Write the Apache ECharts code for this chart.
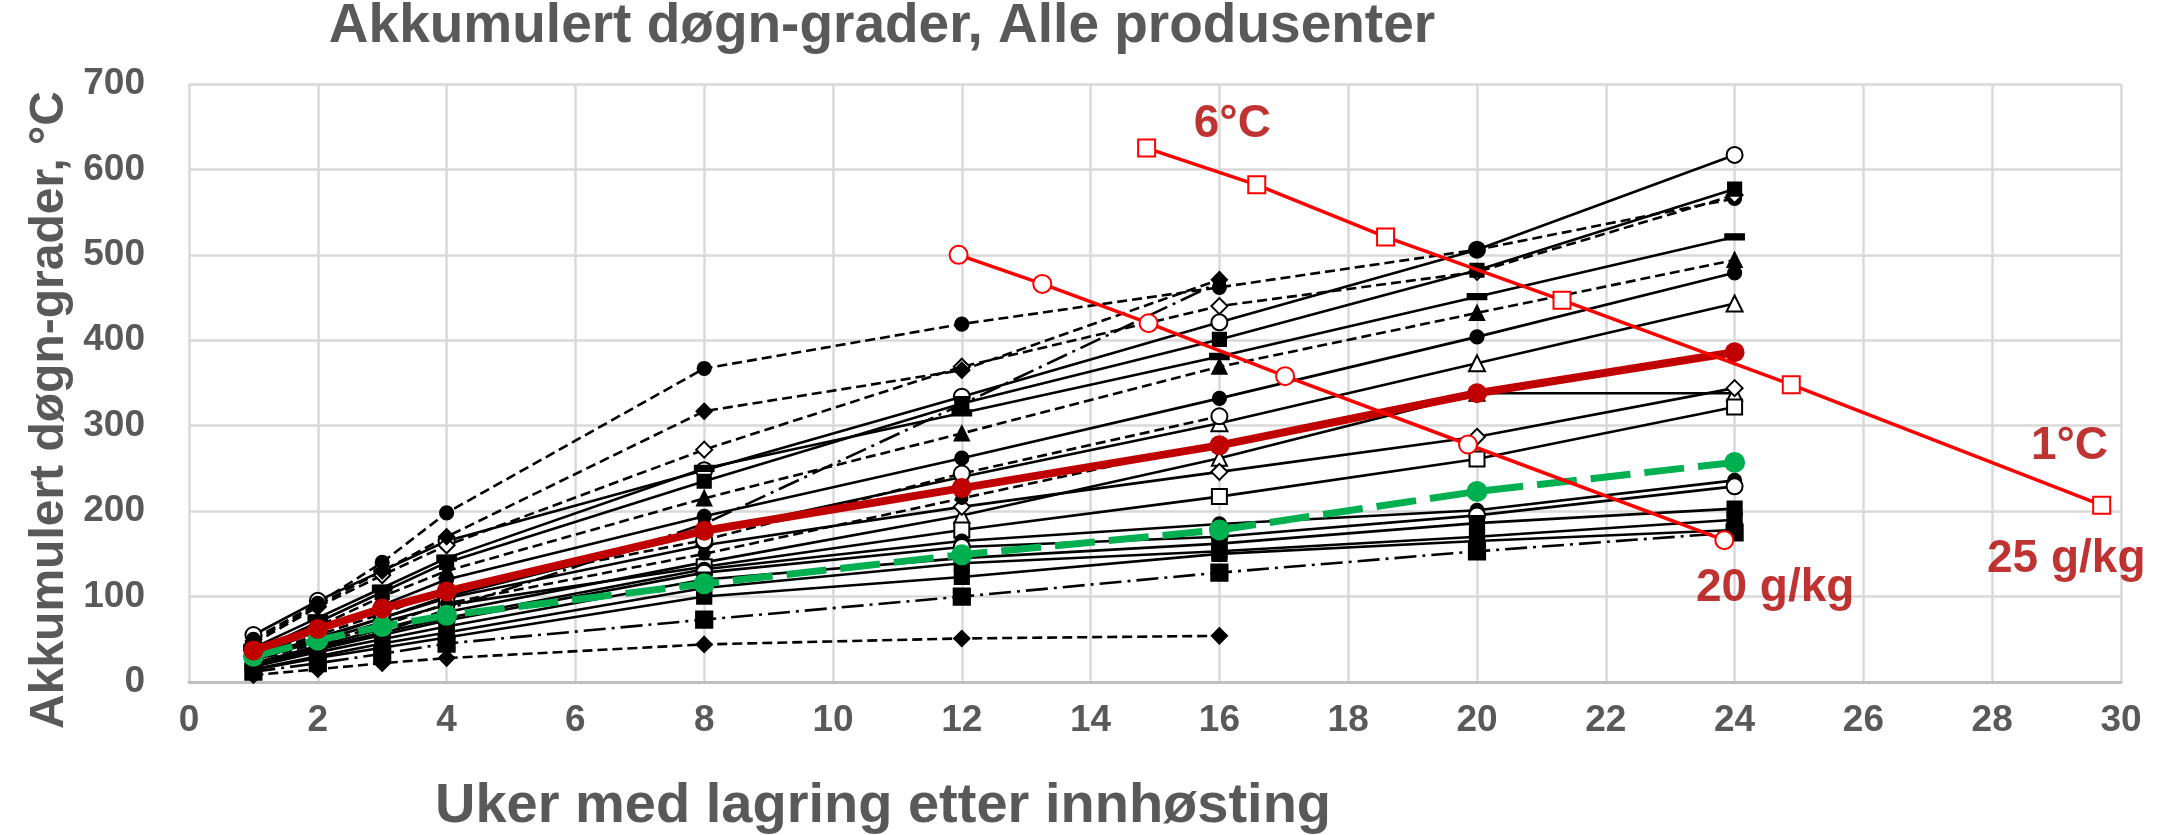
<!DOCTYPE html>
<html>
<head>
<meta charset="utf-8">
<script src="https://cdn.jsdelivr.net/npm/echarts@6/dist/echarts.min.js"></script>
<style>
html,body{margin:0;padding:0;background:#fff;}
#chart{width:2164px;height:835px;}
</style>
</head>
<body>
<div id="chart"></div>
<script>
// ---------- DATA ----------
const weeks = [1, 2, 3, 4, 8, 12, 16, 20, 24];

const s01 = [55, 95, 130, 165, 248, 334, 421, 506, 617];
const s02 = [50, 92, 140, 198, 367, 419, 462, 506, 566];
const s03 = [45, 88, 125, 160, 272, 369, 440, 480, 570];
const s04 = [48, 90, 130, 170, 317, 365, 471, null, null];
const s05 = [20, 38, 58, 85, 185, 325, 468, null, null];
const s06 = [35, 70, 105, 140, 235, 326, 401, 482, 577];
const s07 = [40, 75, 110, 145, 250, 315, 381, 451, 521];
const s08 = [32, 65, 100, 130, 215, 291, 369, 432, 494];
const s09 = [30, 60, 90, 120, 194, 262, 332, 404, 479];
const s10 = [25, 50, 75, 100, 175, 240, 303, 373, 443];
const s11 = [22, 42, 62, 82, 140, 195, 262, 338, 338];
const s12 = [28, 52, 75, 98, 160, 205, 246, 287, 344];
const s13 = [26, 48, 70, 90, 135, 178, 217, 261, 322];
const s14 = [22, 40, 58, 75, 132, 165, 185, 201, 236];
const s15 = [20, 38, 55, 72, 128, 158, 170, 195, 229];
const s16 = [18, 35, 50, 65, 120, 145, 162, 186, 203];
const s17 = [15, 30, 45, 58, 110, 139, 153, 170, 190];
const s18 = [14, 28, 40, 52, 100, 123, 150, 165, 178];
const s19 = [12, 22, 33, 45, 73, 100, 128, 153, 175];
const s20 = [8, 15, 22, 28, 44, 51, 54, null, null];
const s21 = [30, 55, 80, 108, 166, 244, 311, null, null];
const s22 = [25, 45, 66, 92, 150, 215, 280, null, null];

const meanAll = [37, 62, 86, 106, 177, 227, 277, 338, 386];
const meanGreen = [30, 49, 65, 78, 115, 149, 178, 223, 257];

const line6C_x = [14.87, 16.58, 18.58, 21.32, 24.88, 29.7];
const line6C_y = [625, 582, 521, 447, 348, 207];
const line20_x = [11.95, 13.25, 14.9, 17.02, 19.86, 23.84];
const line20_y = [500, 466, 420, 358, 278, 166];

const annotText = ['6°C', '1°C', '20 g/kg', '25 g/kg'];
const annotX = [16.2, 29.2, 24.63, 29.15];
const annotY = [653, 276, 110, 144];

const xTicks = [0, 30, 2];
const yTicks = [0, 700, 100];

// ---------- STYLES ----------
const DASH = [10, 5];
const DASHDOT = [22, 6, 3, 6];
const dashSym = 'path://M0,0 L10,0 L10,3 L0,3 Z';
const blackDefs = [
  [s01, 'solid', 'emptyCircle', 16],
  [s02, DASH, 'circle', 13],
  [s03, DASH, 'emptyDiamond', 16],
  [s04, DASH, 'diamond', 15],
  [s05, DASHDOT, 'circle', 11],
  [s06, 'solid', 'rect', 13],
  [s07, 'solid', dashSym, [17, 6]],
  [s08, DASH, 'triangle', 14],
  [s09, 'solid', 'circle', 13],
  [s10, 'solid', 'emptyTriangle', 16],
  [s11, 'solid', 'emptyTriangle', 15],
  [s12, 'solid', 'emptyDiamond', 16],
  [s13, 'solid', 'emptyRect', 15],
  [s14, 'solid', 'circle', 13],
  [s15, 'solid', 'emptyCircle', 16],
  [s16, 'solid', 'rect', 14],
  [s17, 'solid', 'rect', 14],
  [s18, 'solid', 'rect', 14],
  [s19, DASHDOT, 'rect', 16],
  [s20, DASH, 'diamond', 15],
  [s21, DASH, 'emptyCircle', 16],
  [s22, DASH, 'circle', 11]
];

function pairs(xs, ys) {
  const out = [];
  for (let i = 0; i < xs.length; i++) {
    if (ys[i] !== null && ys[i] !== undefined) out.push([xs[i], ys[i]]);
  }
  return out;
}

const series = [];
blackDefs.forEach((d, i) => {
  series.push({
    type: 'line',
    name: 'p' + (i + 1),
    data: pairs(weeks, d[0]),
    symbol: d[2],
    symbolSize: d[3],
    showAllSymbol: true,
    lineStyle: { color: '#000', width: 2.6, type: d[1] },
    itemStyle: { color: '#000', borderColor: '#000', borderWidth: 2.2 },
    z: 2,
    silent: true
  });
});

series.push({
  type: 'line', name: 'gjennomsnitt',
  data: pairs(weeks, meanGreen),
  symbol: 'circle', symbolSize: 21,
  lineStyle: { color: '#00b050', width: 7, type: [40, 14] },
  itemStyle: { color: '#00b050' },
  z: 4
});
series.push({
  type: 'line', name: 'middel',
  data: pairs(weeks, meanAll),
  symbol: 'circle', symbolSize: 20,
  lineStyle: { color: '#c00000', width: 8 },
  itemStyle: { color: '#c00000' },
  z: 4
});
series.push({
  type: 'line', name: '6-1',
  data: pairs(line6C_x, line6C_y),
  symbol: 'emptyRect', symbolSize: 17,
  lineStyle: { color: '#ff0000', width: 3.5 },
  itemStyle: { color: '#ff0000', borderColor: '#ff0000', borderWidth: 3 },
  z: 5
});
series.push({
  type: 'line', name: '20',
  data: pairs(line20_x, line20_y),
  symbol: 'emptyCircle', symbolSize: 18,
  lineStyle: { color: '#ff0000', width: 3.5 },
  itemStyle: { color: '#ff0000', borderColor: '#ff0000', borderWidth: 3 },
  z: 5
});
series.push({
  type: 'scatter', name: 'annot',
  clip: false,
  symbolSize: 0,
  data: annotText.map((t, i) => ({ name: t, value: [annotX[i], annotY[i]] })),
  label: {
    show: true, position: 'inside', formatter: '{b}',
    color: '#b00000', fontSize: 46, fontWeight: 'bold',
    fontFamily: 'Liberation Sans'
  },
  z: 6
});

const gray = '#595959';
const option = {
  animation: false,
  backgroundColor: '#fff',
  grid: { left: 189, right: 43, top: 84, bottom: 153, containLabel: false },
  xAxis: {
    type: 'value', min: xTicks[0], max: xTicks[1], interval: xTicks[2],
    axisLine: { show: true, lineStyle: { color: '#bfbfbf', width: 3 } },
    axisTick: { show: false },
    splitLine: { show: true, lineStyle: { color: '#d9d9d9', width: 2.5 } },
    axisLabel: { color: gray, fontSize: 37, fontWeight: 'bold', fontFamily: 'Liberation Sans', margin: 20 }
  },
  yAxis: {
    type: 'value', min: yTicks[0], max: yTicks[1], interval: yTicks[2],
    axisLine: { show: false },
    axisTick: { show: false },
    splitLine: { show: true, lineStyle: { color: '#d9d9d9', width: 2.5 } },
    axisLabel: { color: gray, fontSize: 37, fontWeight: 'bold', fontFamily: 'Liberation Sans', margin: 44 }
  },
  graphic: [
    { type: 'text', x: 882, y: 27, style: { text: 'Akkumulert døgn-grader, Alle produsenter', fill: gray, fontSize: 55, fontWeight: 'bold', fontFamily: 'Liberation Sans', align: 'center', verticalAlign: 'middle' } },
    { type: 'text', x: 883, y: 807, style: { text: 'Uker med lagring etter innhøsting', fill: gray, fontSize: 56, fontWeight: 'bold', fontFamily: 'Liberation Sans', align: 'center', verticalAlign: 'middle' } },
    { type: 'text', x: 50, y: 410, rotation: Math.PI / 2, style: { text: 'Akkumulert døgn-grader, °C', fill: gray, fontSize: 48, fontWeight: 'bold', fontFamily: 'Liberation Sans', align: 'center', verticalAlign: 'middle' } }
  ],
  series: series
};

const chart = echarts.init(document.getElementById('chart'), null, { renderer: 'canvas' });
chart.setOption(option);
</script>
</body>
</html>
